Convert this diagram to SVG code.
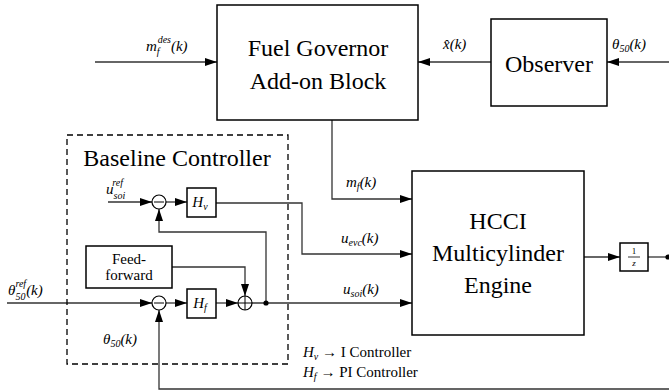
<svg xmlns="http://www.w3.org/2000/svg" width="669" height="392" viewBox="0 0 669 392">
<style>
.blk{fill:#fff;stroke:#000;stroke-width:1.5}
.ln{fill:none;stroke:#333;stroke-width:1.3}
.big{font-size:24px}
.txt{font-size:15px}
.m{font-style:italic;font-size:15px}
.s{font-size:10px}
</style>
<defs>
<marker id="ah" viewBox="0 0 12 8" refX="12" refY="4" markerWidth="12" markerHeight="8" markerUnits="userSpaceOnUse" orient="auto">
<path d="M0,0 L12,4 L0,8 Z" fill="#000"/>
</marker>
</defs>
<g id="connectors">
<path class="ln" d="M95,62 H217" marker-end="url(#ah)"/>
<path class="ln" d="M491,62 H418" marker-end="url(#ah)"/>
<path class="ln" d="M669,62 H607" marker-end="url(#ah)"/>
<path class="ln" d="M332,120 V199 H412" marker-end="url(#ah)"/>
<path class="ln" d="M216,203 H302 V254 H412" marker-end="url(#ah)"/>
<path class="ln" d="M245,303 H412" marker-end="url(#ah)"/>
<path class="ln" d="M108,202 H152" marker-end="url(#ah)"/>
<path class="ln" d="M166,202 H187" marker-end="url(#ah)"/>
<path class="ln" d="M266,303 V232 H159 V209" marker-end="url(#ah)"/>
<path class="ln" d="M172,267 H245 V296" marker-end="url(#ah)"/>
<path class="ln" d="M7,303 H152" marker-end="url(#ah)"/>
<path class="ln" d="M166,303 H187" marker-end="url(#ah)"/>
<path class="ln" d="M216,303 H238" marker-end="url(#ah)"/>
<path class="ln" d="M669,389 H159 V310" marker-end="url(#ah)"/>
<path class="ln" d="M584,257 H620" marker-end="url(#ah)"/>
<path class="ln" d="M648,257 H669"/>
<circle cx="266" cy="303" r="2.6" fill="#000"/>
<circle cx="668" cy="257" r="2.6" fill="#000"/>
</g>
<g font-family="Liberation Serif, DejaVu Serif, serif" fill="#000">
<g id="baseline">
<rect x="67" y="135" width="221" height="229" fill="none" stroke="#000" stroke-width="1.3" stroke-dasharray="6,4"/>
<text class="big" x="177" y="166" text-anchor="middle">Baseline Controller</text>
</g>
<g id="governor">
<rect class="blk" x="217" y="5" width="201" height="115"/>
<text class="big" x="318" y="56" text-anchor="middle">Fuel Governor</text>
<text class="big" x="318" y="89" text-anchor="middle">Add-on Block</text>
</g>
<g id="observer">
<rect class="blk" x="491" y="19" width="116" height="87"/>
<text class="big" x="549" y="72" text-anchor="middle">Observer</text>
</g>
<g id="engine">
<rect class="blk" x="412" y="171" width="172" height="164"/>
<text class="big" x="498" y="229" text-anchor="middle">HCCI</text>
<text class="big" x="498" y="261" text-anchor="middle">Multicylinder</text>
<text class="big" x="498" y="293" text-anchor="middle">Engine</text>
</g>
<g id="delay">
<rect class="blk" x="620" y="243" width="28" height="28"/>
<text x="634" y="254" text-anchor="middle" font-size="9">1</text>
<line x1="628" y1="257" x2="640" y2="257" stroke="#000" stroke-width="0.8"/>
<text x="634" y="266" text-anchor="middle" font-size="9" font-style="italic">z</text>
</g>
<g id="sum1">
<circle cx="159" cy="202" r="7" fill="#fff" stroke="#000" stroke-width="1.2"/>
<line x1="154" y1="202" x2="164" y2="202" stroke="#000" stroke-width="1"/>
</g>
<g id="hv">
<rect class="blk" x="187" y="188" width="29" height="29"/>
<text class="m" x="200" y="207" text-anchor="middle">H<tspan class="s" dy="3">v</tspan></text>
</g>
<g id="feedforward">
<rect class="blk" x="86" y="246" width="86" height="42"/>
<text class="txt" x="129" y="264" text-anchor="middle">Feed-</text>
<text class="txt" x="129" y="280" text-anchor="middle">forward</text>
</g>
<g id="sum2">
<circle cx="159" cy="303" r="7" fill="#fff" stroke="#000" stroke-width="1.2"/>
<line x1="154" y1="303" x2="164" y2="303" stroke="#000" stroke-width="1"/>
</g>
<g id="hf">
<rect class="blk" x="187" y="289" width="29" height="29"/>
<text class="m" x="200" y="308" text-anchor="middle">H<tspan class="s" dy="3">f</tspan></text>
</g>
<g id="sum3">
<circle cx="245" cy="303" r="7" fill="#fff" stroke="#000" stroke-width="1.2"/>
<line x1="238" y1="303" x2="252" y2="303" stroke="#000" stroke-width="1"/>
<line x1="245" y1="296" x2="245" y2="310" stroke="#000" stroke-width="1"/>
</g>
<g id="labels">
<text class="m" x="146" y="51">m<tspan class="s" dy="4">f</tspan><tspan class="s" dx="-2" dy="-12">des</tspan><tspan dy="8">(k)</tspan></text>
<text class="m" x="443" y="49">x̂(k)</text>
<text class="m" x="612" y="49">θ<tspan class="s" dy="3">50</tspan><tspan dy="-3">(k)</tspan></text>
<text class="m" x="346" y="187">m<tspan class="s" dy="3">f</tspan><tspan dy="-3">(k)</tspan></text>
<text class="m" x="341" y="243">u<tspan class="s" dy="3">evc</tspan><tspan dy="-3">(k)</tspan></text>
<text class="m" x="343" y="294">u<tspan class="s" dy="3">soi</tspan><tspan dy="-3">(k)</tspan></text>
<text class="m" x="106" y="194">u<tspan class="s" dy="5">soi</tspan><tspan class="s" dx="-13" dy="-13">ref</tspan></text>
<text class="m" x="8" y="295">θ<tspan class="s" dy="5">50</tspan><tspan class="s" dx="-10" dy="-13">ref</tspan><tspan dy="8">(k)</tspan></text>
<text class="m" x="103" y="344">θ<tspan class="s" dy="3">50</tspan><tspan dy="-3">(k)</tspan></text>
<text class="txt" x="303" y="357"><tspan font-style="italic">H</tspan><tspan class="s" font-style="italic" dy="3">v</tspan><tspan dy="-3"> → I Controller</tspan></text>
<text class="txt" x="303" y="377"><tspan font-style="italic">H</tspan><tspan class="s" font-style="italic" dy="3">f</tspan><tspan dy="-3"> → PI Controller</tspan></text>
</g>
</g>
</svg>
